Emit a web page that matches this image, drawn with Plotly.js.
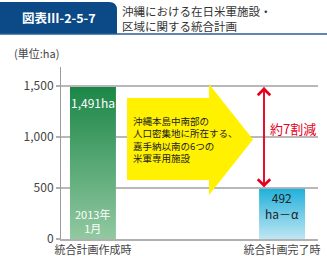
<!DOCTYPE html>
<html><head><meta charset="utf-8">
<script src="https://cdn.plot.ly/plotly-3.0.1.min.js"></script>
<style>html,body{margin:0;padding:0;background:#fff}#chart{width:327px;height:256px}</style>
</head><body><div id="chart"></div>
<script>
// ---- data ----
const categories = ['統合計画作成時', '統合計画完了時'];
const values = [1491, 492];
const valueLabels = ['1,491ha', '492<br>ha－α'];
const dateLabel = ['2013年', '1月'];
const yTicks = [0, 500, 1000, 1500];
const reductionLabel = '約7割減';
const arrowLines = ['沖縄本島中南部の', '人口密集地に所在する、', '嘉手納以南の6つの', '米軍専用施設'];
const figNo = '図表Ⅲ-2-5-7';
const titleLines = ['沖縄における在日米軍施設・', '区域に関する統合計画'];
const unitLabel = '(単位:ha)';

// ---- layout helpers (pixel -> paper) ----
const W = 327, H = 256, ML = 61, MR = 9, MT = 67, MB = 17;
const PW = W - ML - MR, PH = H - MT - MB;
const X = px => (px - ML) / PW;
const Y = py => (H - MB - py) / PH;
const FONT = '"Noto Sans CJK JP", "Noto Sans", sans-serif';

const trace = {
  type: 'bar', x: categories, y: values, width: 0.243,
  marker: {color: ['#4fa56e', '#6ccbe6'], line: {width: 0}},
  hoverinfo: 'none'
};

const arrowPath = 'M' + X(127) + ',' + Y(98) + ' L' + X(209) + ',' + Y(98) + ' L' + X(209) + ',' + Y(84) +
  ' L' + X(253) + ',' + Y(139.5) + ' L' + X(209) + ',' + Y(195) + ' L' + X(209) + ',' + Y(180) +
  ' L' + X(127) + ',' + Y(180) + ' Z';
const tabPath = 'M' + X(0) + ',' + Y(34) + ' L' + X(0) + ',' + Y(2) + ' L' + X(109) + ',' + Y(2) +
  ' Q' + X(117) + ',' + Y(2) + ' ' + X(117) + ',' + Y(10) + ' L' + X(117) + ',' + Y(34) + ' Z';

const annotations = [
  {xref: 'paper', yref: 'paper', x: X(59), y: Y(18), text: '<b>' + figNo + '</b>', showarrow: false,
   font: {family: FONT, size: 12.5, color: '#ffffff'}, xanchor: 'center', yanchor: 'middle'},
  {xref: 'paper', yref: 'paper', x: X(121), y: Y(19), text: titleLines.join('<br>'), showarrow: false,
   font: {family: FONT, size: 11.5, color: '#333333'}, xanchor: 'left', yanchor: 'middle', align: 'left'},
  {xref: 'paper', yref: 'paper', x: X(13), y: Y(53), text: unitLabel, showarrow: false,
   font: {family: FONT, size: 11, color: '#444444'}, xanchor: 'left', yanchor: 'middle'},
  {xref: 'x', yref: 'y', x: categories[0], y: values[0], yshift: -15, text: valueLabels[0], showarrow: false,
   font: {family: FONT, size: 12, color: '#ffffff'}, xanchor: 'center', yanchor: 'middle'},
  {xref: 'x', yref: 'y', x: categories[0], y: 0, yshift: 18, text: dateLabel.join('<br>'), showarrow: false,
   font: {family: FONT, size: 11, color: '#ffffff'}, xanchor: 'center', yanchor: 'middle'},
  {xref: 'x', yref: 'y', x: categories[1], y: values[1], yshift: -17, text: valueLabels[1], showarrow: false,
   font: {family: FONT, size: 12, color: '#222222'}, xanchor: 'center', yanchor: 'middle'},
  {xref: 'paper', yref: 'paper', x: X(269), y: Y(128), text: reductionLabel, showarrow: false,
   font: {family: FONT, size: 13, color: '#e60020'}, xanchor: 'left', yanchor: 'middle'},
  {xref: 'paper', yref: 'y', x: X(264), y: values[0], axref: 'pixel', ayref: 'y', ax: 0, ay: values[1] + 15,
   text: '', showarrow: true, arrowhead: 4, arrowsize: 1.6, arrowwidth: 1.5, arrowcolor: '#e60020'},
  {xref: 'paper', yref: 'y', x: X(264), y: values[1] + 15, axref: 'pixel', ayref: 'y', ax: 0, ay: values[0],
   text: '', showarrow: true, arrowhead: 4, arrowsize: 1.6, arrowwidth: 1.5, arrowcolor: '#e60020'},
  {xref: 'paper', yref: 'paper', x: X(132), y: Y(139), text: arrowLines.join('<br>'), showarrow: false,
   font: {family: FONT, size: 9.5, color: '#222222'}, xanchor: 'left', yanchor: 'middle', align: 'left'}
];
annotations.forEach(a => { a.borderpad = 0; });

const layout = {
  width: W, height: H,
  margin: {l: ML, r: MR, t: MT, b: MB, pad: 0},
  paper_bgcolor: '#ffffff', plot_bgcolor: '#ffffff',
  showlegend: false,
  font: {family: FONT, color: '#444444'},
  xaxis: {type: 'category', range: [-0.169, 1.19], showgrid: false, showline: true, linecolor: '#b0b0b0',
    linewidth: 1.5, ticks: '', tickfont: {family: FONT, size: 11, color: '#444444'}, fixedrange: true},
  yaxis: {range: [0, 1688], tickvals: yTicks, tickformat: ',', showgrid: true, gridcolor: '#b8b8b8',
    gridwidth: 1.5, zeroline: false, showline: true, linecolor: '#9a9a9a', linewidth: 1,
    ticks: 'outside', ticklen: 4, tickcolor: '#b0b0b0', tickwidth: 1.5,
    tickfont: {family: FONT, size: 12, color: '#444444'}, fixedrange: true},
  shapes: [
    {type: 'path', xref: 'paper', yref: 'paper', path: tabPath, fillcolor: '#0b4a86', line: {width: 0}},
    {type: 'line', xref: 'paper', yref: 'paper', x0: X(0), x1: X(327), y0: Y(34), y1: Y(34),
     line: {color: '#2a5f96', width: 1.5}},
    {type: 'path', xref: 'paper', yref: 'paper', path: arrowPath, fillcolor: '#fff100', line: {width: 0}, layer: 'above'}
  ],
  annotations: annotations
};

Plotly.newPlot('chart', [trace], layout, {staticPlot: true, displayModeBar: false}).then(gd => {
  const svg = gd.querySelector('svg.main-svg');
  const ns = 'http://www.w3.org/2000/svg';
  let defs = svg.querySelector('defs');
  if (!defs) { defs = document.createElementNS(ns, 'defs'); svg.insertBefore(defs, svg.firstChild); }
  const grads = [['gGreen', '#1b8647', '#92c9a1'], ['gBlue', '#22b1da', '#c0e6f4']];
  grads.forEach(([id, c1, c2]) => {
    const lg = document.createElementNS(ns, 'linearGradient');
    lg.setAttribute('id', id); lg.setAttribute('x1', '0'); lg.setAttribute('y1', '0');
    lg.setAttribute('x2', '0'); lg.setAttribute('y2', '1');
    [[0, c1], [1, c2]].forEach(([o, c]) => {
      const s = document.createElementNS(ns, 'stop');
      s.setAttribute('offset', o); s.setAttribute('stop-color', c); lg.appendChild(s);
    });
    defs.appendChild(lg);
  });
  const paths = gd.querySelectorAll('.barlayer .point path');
  paths.forEach((p, i) => { p.style.fill = 'url(#' + grads[i][0] + ')'; });
});
</script></body></html>
